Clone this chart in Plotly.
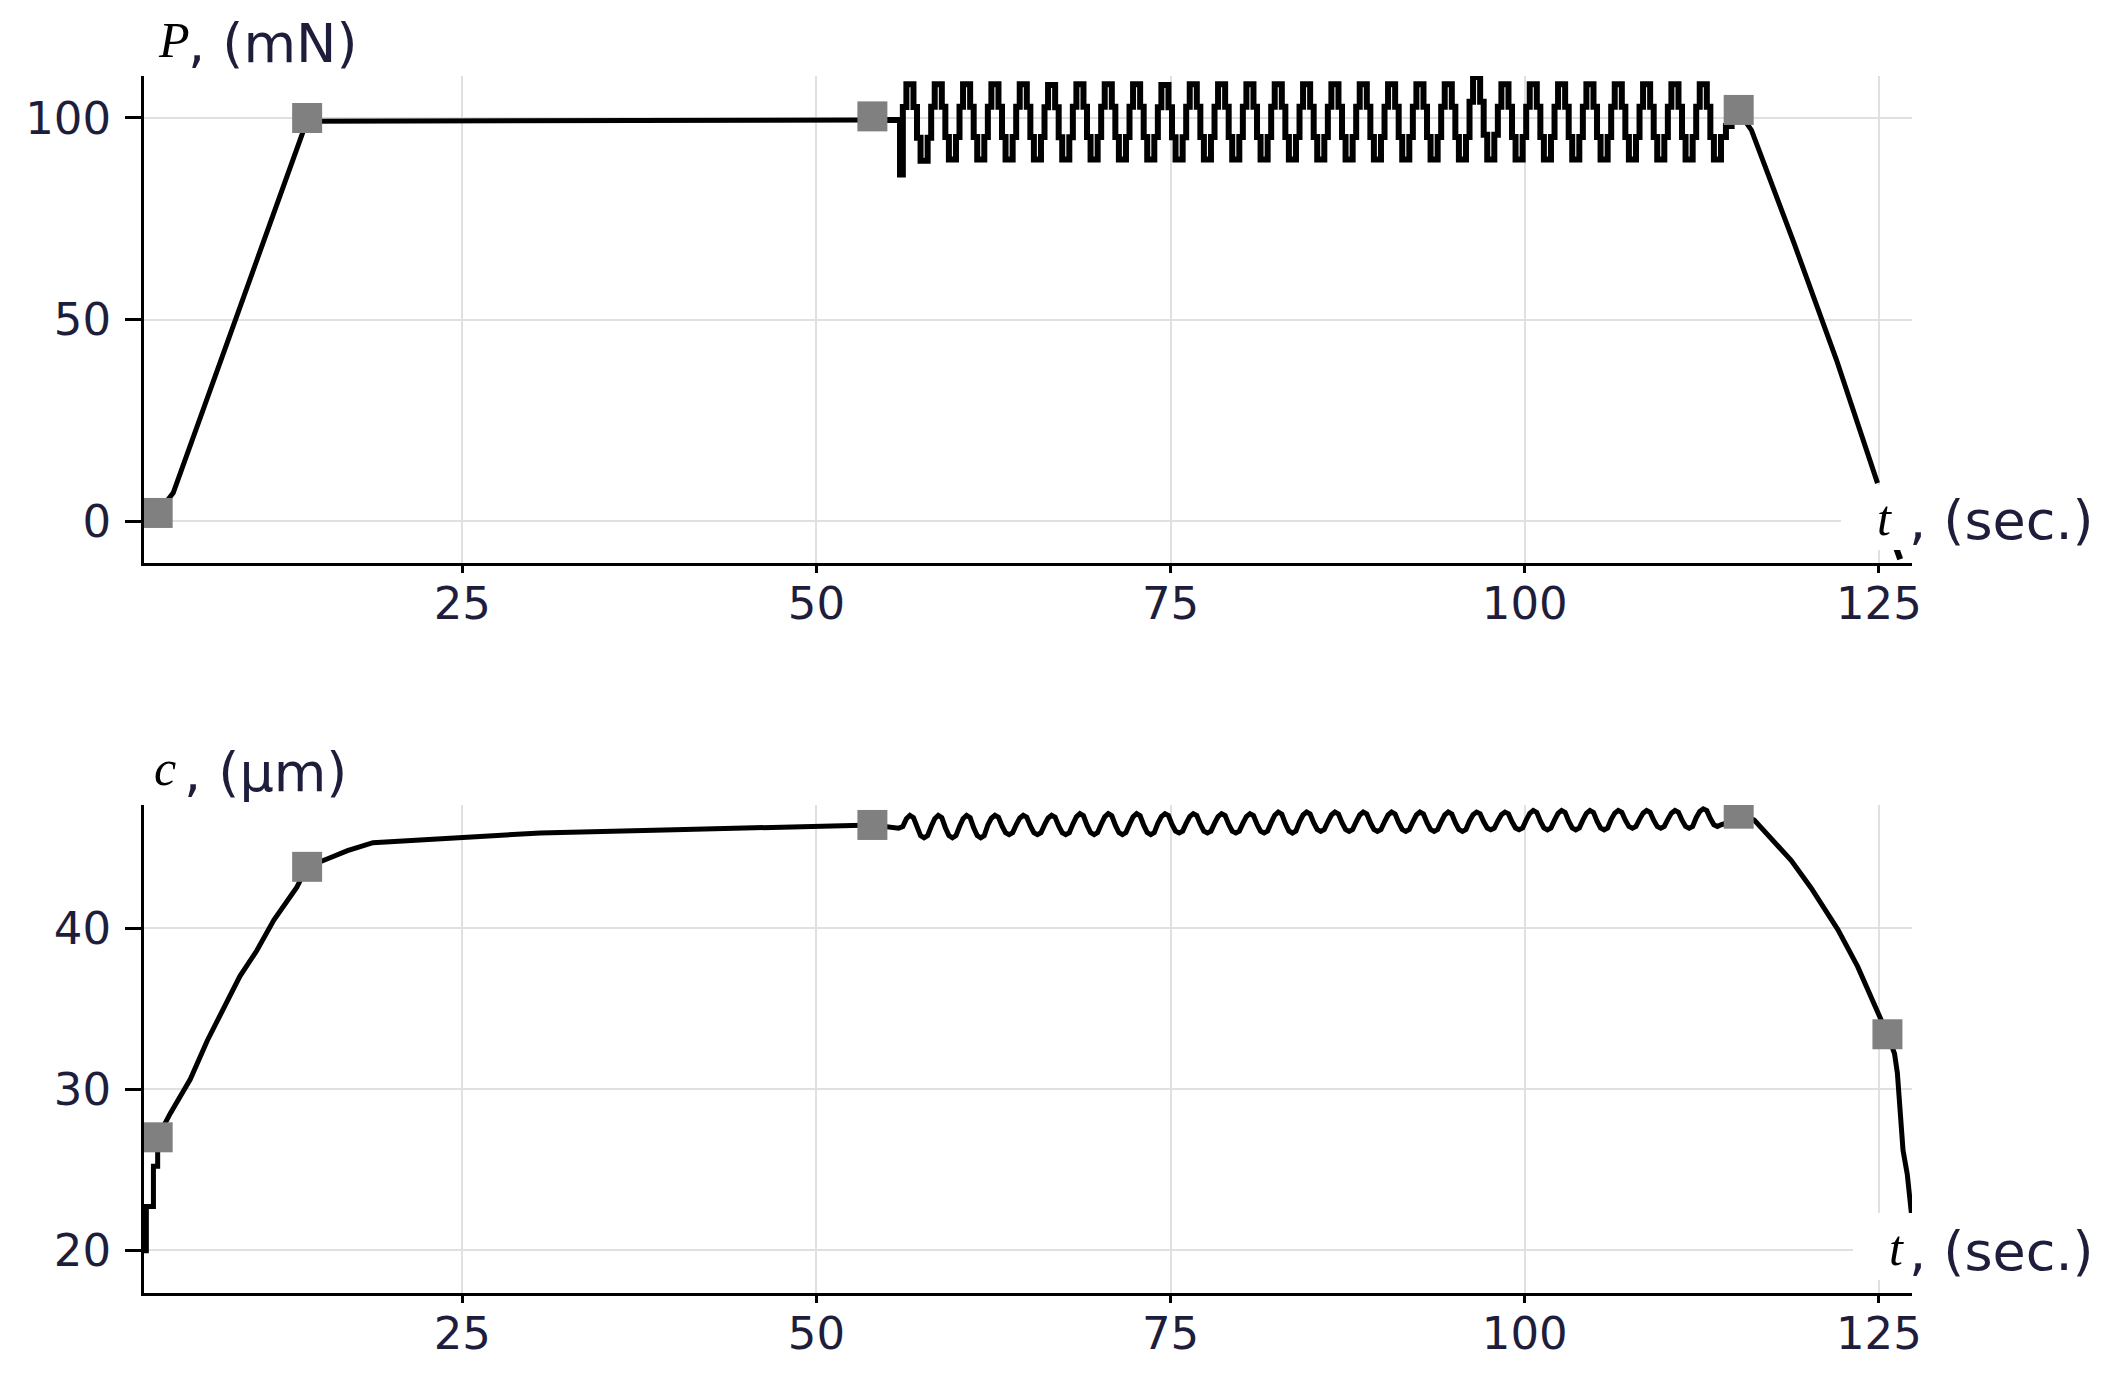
import plotly.graph_objects as go

# ---------------- data ----------------
X_TICKS = [25, 50, 75, 100, 125]
P_TICKS = [0, 50, 100]
C_TICKS = [20, 30, 40]

# Force P (mN): loading ramp, hold, unloading
P_RAMP_T = [3.5, 4.6, 13.7, 14.05]
P_RAMP_V = [2.0, 7.0, 96.0, 99.6]
P_HOLD_T = [14.05, 30.0, 45.0, 53.95]
P_HOLD_V = [99.2, 99.2, 99.3, 99.5]
# start of the oscillating segment (spike) and its end
P_OSC_LEAD_T = [53.95, 55.9]
P_OSC_LEAD_V = [99.5, 86.0]
P_OSC_END_T = [114.2, 114.6, 115.1]
P_OSC_END_V = [98.0, 101.0, 102.0]
P_DROP_T = [115.1, 115.4, 116.0, 119.0, 122.0, 124.9]
P_DROP_V = [102.0, 100.0, 97.0, 69.0, 40.0, 9.4]
P_TAIL_T = [126.2, 126.5]
P_TAIL_V = [-6.5, -9.5]

# oscillation cycles (2 s period): per-cycle peak / trough of P
OSC_T0 = 56.1
OSC_PERIOD = 2.0
P_PEAKS = [108.4, 108.4, 108.4, 108.4, 108.4, 108.2, 108.4, 108.4, 108.4, 108.2,
           108.4, 108.4, 108.4, 108.4, 108.4, 108.4, 108.4, 108.4, 108.4, 108.4,
           110.2, 108.4, 108.4, 108.4, 108.4, 108.4, 108.4, 108.4, 108.4]
P_TROUGHS = [89.4, 89.7, 89.7, 89.7, 89.7, 89.7, 89.7, 89.7, 89.7, 89.7,
             89.7, 89.7, 89.7, 89.7, 89.7, 89.7, 89.7, 89.7, 89.7, 89.7,
             89.7, 89.7, 89.7, 89.7, 89.7, 89.7, 89.7, 89.7, 89.7]
P_CYCLE_SHAPE = [0.7, 1.0, 1.0, 0.7, 0.3, 0.0, 0.0, 0.3]

# Displacement c (um)
C_RAMP_T = [2.7, 2.7, 3.2, 3.2, 3.5, 3.5, 4.4, 5.8, 7.0, 8.1, 9.3, 10.5, 11.7,
            13.3, 14.05, 15.5, 16.9, 18.7, 22.2, 25.8, 30.5, 40.0, 48.0, 53.95, 55.8]
C_RAMP_V = [19.8, 22.7, 22.7, 25.2, 25.2, 27.0, 28.5, 30.6, 33.0, 34.9, 37.0, 38.6, 40.5,
            42.5, 43.8, 44.3, 44.8, 45.3, 45.5, 45.65, 45.9, 46.1, 46.3, 46.4, 46.2]
C_PEAKS = [47.0, 47.0, 47.0, 47.0, 47.0, 47.0, 47.1, 47.1, 47.1, 47.1,
           47.1, 47.1, 47.1, 47.2, 47.2, 47.2, 47.2, 47.2, 47.2, 47.2,
           47.2, 47.2, 47.3, 47.3, 47.3, 47.3, 47.3, 47.3, 47.4]
C_TROUGHS = [45.6, 45.6, 45.6, 45.8, 45.8, 45.8, 45.8, 45.8, 45.8, 45.9,
             45.9, 45.9, 45.9, 45.9, 46.0, 46.0, 46.0, 46.0, 46.0, 46.0,
             46.1, 46.1, 46.1, 46.1, 46.1, 46.2, 46.2, 46.2, 46.3]
C_CYCLE_SHAPE = [0.5, 0.85, 1.0, 0.9, 0.45, 0.1, 0.0, 0.1]
C_DROP_T = [114.5, 115.1, 116.2, 118.8, 120.2, 122.1, 123.5, 125.1, 125.6,
            126.1, 126.3, 126.7, 127.0, 127.3]
C_DROP_V = [46.6, 47.1, 46.7, 44.2, 42.5, 39.9, 37.6, 34.5, 33.4,
            32.2, 31.0, 26.2, 24.7, 22.2]

# gray square markers
P_MARK_T = [3.5, 14.05, 53.95, 115.1]
P_MARK_V = [2.0, 100.0, 100.4, 102.0]
C_MARK_T = [3.5, 14.05, 53.95, 115.1, 125.6]
C_MARK_V = [27.0, 43.8, 46.4, 47.1, 33.4]


def cycles(t0, period, peaks, troughs, shape):
    ts, vs = [], []
    n = len(shape)
    for k, (pk, tr) in enumerate(zip(peaks, troughs)):
        s = t0 + k * period
        for j, f in enumerate(shape):
            ts.append(s + j * period / n)
            vs.append(tr + (pk - tr) * f)
    return ts, vs


p_osc_t, p_osc_v = cycles(OSC_T0, OSC_PERIOD, P_PEAKS, P_TROUGHS, P_CYCLE_SHAPE)
c_osc_t, c_osc_v = cycles(OSC_T0, OSC_PERIOD, C_PEAKS, C_TROUGHS, C_CYCLE_SHAPE)

FW, FH = 2125, 1384
XCOMP = 1.0 / 0.9948   # horizontal compensation measured from earlier renders


def PX(px):
    return px * XCOMP / FW


def PY(py):
    return 1 - py / FH


LW = 5
LINE = dict(color="black", width=LW)
TXT = "#1e1e3c"
SANS = "DejaVu Sans"
SERIF = "Liberation Serif"
FS = 45     # tick labels
TS = 54     # axis titles (sans part)

fig = go.Figure()

# top panel
fig.add_trace(go.Scatter(x=P_RAMP_T, y=P_RAMP_V, mode="lines", line=LINE, xaxis="x", yaxis="y"))
fig.add_trace(go.Scatter(x=P_HOLD_T, y=P_HOLD_V, mode="lines", line=LINE, xaxis="x", yaxis="y"))
fig.add_trace(go.Scatter(x=P_OSC_LEAD_T + p_osc_t + P_OSC_END_T,
                         y=P_OSC_LEAD_V + p_osc_v + P_OSC_END_V,
                         mode="lines", line=dict(color="black", width=6, shape="hv"),
                         xaxis="x", yaxis="y"))
fig.add_trace(go.Scatter(x=P_DROP_T, y=P_DROP_V, mode="lines", line=LINE, xaxis="x", yaxis="y"))
fig.add_trace(go.Scatter(x=P_TAIL_T, y=P_TAIL_V, mode="lines", line=dict(color="black", width=6),
                         xaxis="x", yaxis="y"))
fig.add_trace(go.Scatter(x=P_MARK_T, y=P_MARK_V, mode="markers",
                         marker=dict(symbol="square", size=30, color="#808080"),
                         xaxis="x", yaxis="y"))

# bottom panel
fig.add_trace(go.Scatter(x=C_RAMP_T + c_osc_t + C_DROP_T, y=C_RAMP_V + c_osc_v + C_DROP_V,
                         mode="lines", line=LINE, xaxis="x2", yaxis="y2"))
fig.add_trace(go.Scatter(x=C_MARK_T, y=C_MARK_V, mode="markers",
                         marker=dict(symbol="square", size=30, color="#808080"),
                         xaxis="x2", yaxis="y2"))

xdom = [PX(144), PX(1911)]
common_x = dict(domain=xdom, range=[2.54, 127.33], tickmode="array", tickvals=X_TICKS,
                showgrid=True, gridcolor="#e0e0e0", gridwidth=2, zeroline=False,
                showline=True, linecolor="black", linewidth=3,
                ticks="outside", ticklen=7, tickwidth=3, tickcolor="black",
                tickfont=dict(family=SANS, size=FS, color=TXT), ticklabelstandoff=-8)
common_y = dict(showgrid=True, gridcolor="#e0e0e0", gridwidth=2, zeroline=False,
                showline=True, linecolor="black", linewidth=3, tickmode="array",
                ticks="outside", ticklen=16, tickwidth=3, tickcolor="black",
                tickfont=dict(family=SANS, size=FS, color=TXT), ticklabelstandoff=5)

fig.update_layout(
    width=FW, height=FH, autosize=False,
    margin=dict(l=0, r=0, t=0, b=0),
    paper_bgcolor="white", plot_bgcolor="white",
    showlegend=False,
    xaxis=dict(anchor="y", **common_x),
    yaxis=dict(anchor="x", domain=[PY(563), PY(76)], range=[-10.42, 110.42],
               tickvals=P_TICKS, **common_y),
    xaxis2=dict(anchor="y2", **common_x),
    yaxis2=dict(anchor="x2", domain=[PY(1293), PY(805)], range=[17.33, 47.64],
                tickvals=C_TICKS, **common_y),
)

# white boxes behind the "t, (sec.)" labels
for (x0, x1, y0, y1) in [(1840, 2110, 485, 550), (1852, 2110, 1213, 1280)]:
    fig.add_shape(type="rect", xref="paper", yref="paper",
                  x0=PX(x0), x1=PX(x1), y0=PY(y1), y1=PY(y0),
                  fillcolor="white", line=dict(width=0), layer="above")


def ann(text, px, py, family, size, color, xanchor="left"):
    fig.add_annotation(text=text, x=PX(px), y=PY(py), xref="paper", yref="paper",
                       xanchor=xanchor, yanchor="middle", showarrow=False,
                       font=dict(family=family, size=size, color=color))


ann("<i>P</i>", 156, 40, SERIF, 50, "black")
ann(", (mN)", 186, 44, SANS, TS, TXT)
ann("<i>c</i>", 152, 768, SERIF, 50, "black")
ann(", (µm)", 182, 772, SANS, TS, TXT)
ann("<i>t</i>", 1874, 518, SERIF, 50, "black")
ann(", (sec.)", 1906, 520, SANS, TS, TXT)
ann("<i>t</i>", 1886, 1248, SERIF, 50, "black")
ann(", (sec.)", 1906, 1251, SANS, TS, TXT)

fig.write_html(
    "out.html",
    config={"displayModeBar": False},
    post_script="document.body.style.margin='0';"
                "document.documentElement.style.overflow='hidden';"
                "document.body.style.overflow='hidden';",
)
